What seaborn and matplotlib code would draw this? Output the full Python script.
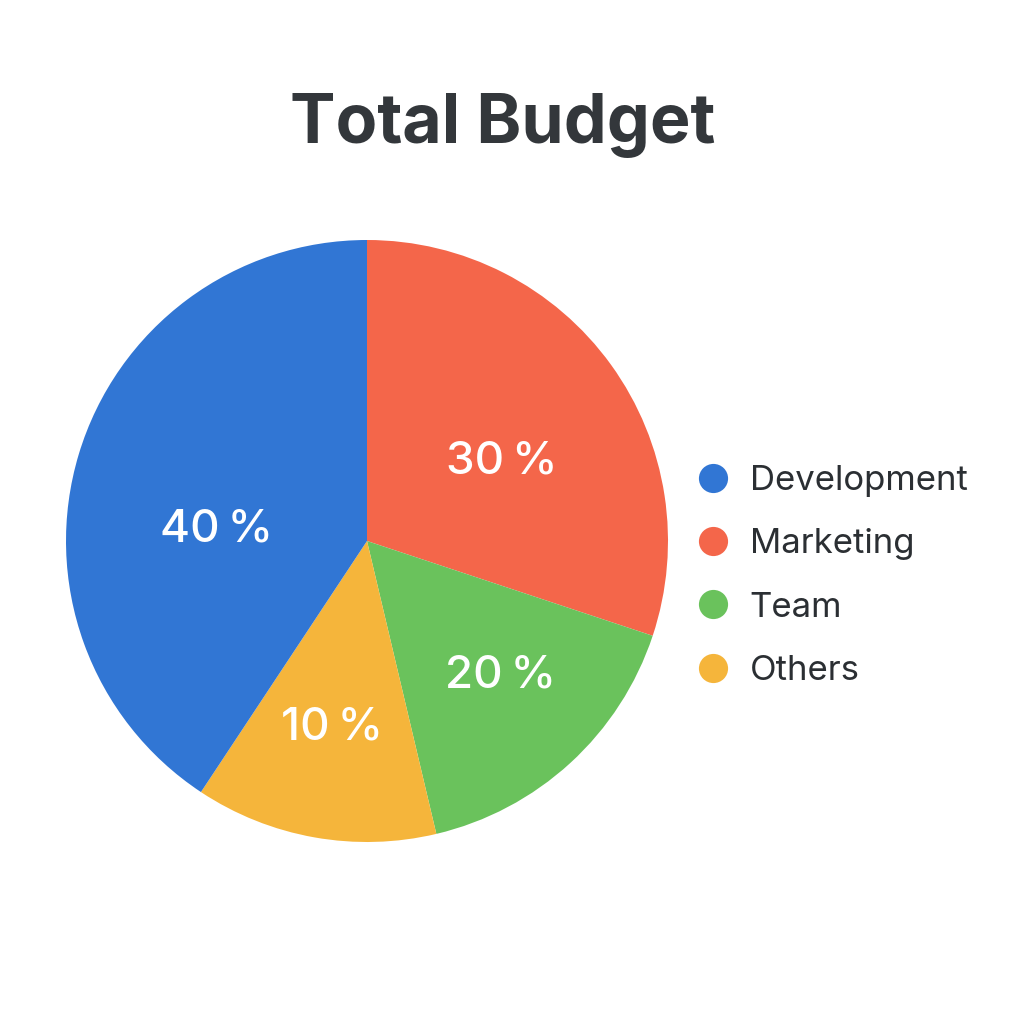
import matplotlib.pyplot as plt
import seaborn as sns
import numpy as np
from matplotlib.lines import Line2D

# data
categories = ['Marketing', 'Team', 'Others', 'Development']
shares = [30.1, 16.2, 13.0, 40.7]          # wedge sizes as drawn
pct_labels = ['30\u2009%', '20\u2009%', '10\u2009%', '40\u2009%']
colors = ['#F4664A', '#6AC25C', '#F5B53B', '#3176D4']
legend_order = ['Development', 'Marketing', 'Team', 'Others']

# where each percent label sits (angle in degrees, radius as fraction)
label_pos = [(30.5, 0.52), (-45.2, 0.63), (-100.6, 0.63), (175.8, 0.50)]

sns.set_theme(style='white')
plt.rcParams['font.family'] = ['Inter', 'DejaVu Sans']

fig = plt.figure(figsize=(10.24, 10.24), dpi=100)
fig.patch.set_facecolor('white')

r_px = 301
lim = 1.05
size = 2 * r_px * lim / 1024
cx, cy = 367 / 1024, (1024 - 541) / 1024
ax = fig.add_axes([cx - size / 2, cy - size / 2, size, size])

wedges, _ = ax.pie(shares, colors=colors, startangle=90, counterclock=False,
                   wedgeprops=dict(linewidth=0))
ax.set_xlim(-lim, lim)
ax.set_ylim(-lim, lim)
ax.set_aspect('equal')
ax.axis('off')

for txt, (ang, rad) in zip(pct_labels, label_pos):
    a = np.deg2rad(ang)
    ax.text(rad * np.cos(a), rad * np.sin(a), txt, ha='center', va='center',
            color='white', fontsize=33, fontweight='medium')

fig.text(503 / 1024, 1 - 125 / 1024, 'Total Budget', ha='center', va='center',
         fontsize=49, fontweight='bold', color='#33373B')

col_map = dict(zip(categories, colors))
handles = [Line2D([0], [0], marker='o', linestyle='', markersize=21,
                  markerfacecolor=col_map[c], markeredgewidth=0)
           for c in legend_order]
leg = fig.legend(handles, legend_order, loc='center left',
                 bbox_to_anchor=(675 / 1024, 1 - 576 / 1024), frameon=False,
                 fontsize=25, handletextpad=0.45, labelspacing=0.9,
                 handlelength=1.2, borderpad=0)
for t in leg.get_texts():
    t.set_color('#2B2F33')

fig.savefig('out.png', dpi=100, facecolor='white')
